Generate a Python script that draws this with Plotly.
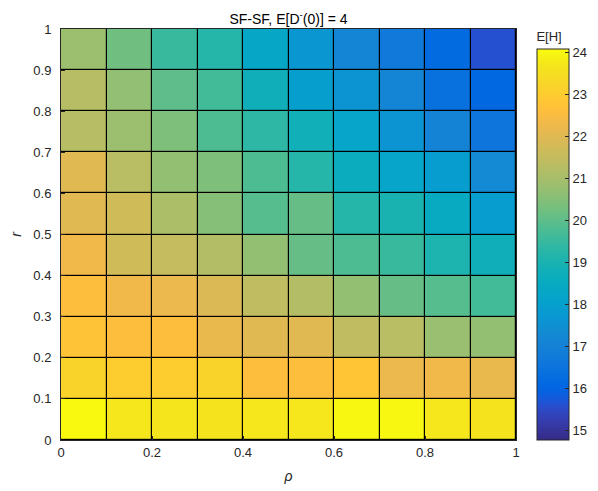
import plotly.graph_objects as go

rho = [0.05, 0.15, 0.25, 0.35, 0.45, 0.55, 0.65, 0.75, 0.85, 0.95]
r = [0.05, 0.15, 0.25, 0.35, 0.45, 0.55, 0.65, 0.75, 0.85, 0.95]

# E[H] values, rows = r (bottom to top), columns = rho (left to right)
EH = [
    [24.05, 23.70, 23.65, 23.60, 23.70, 23.70, 24.00, 24.00, 23.70, 23.60],
    [23.20, 23.00, 23.00, 23.20, 22.60, 22.60, 22.80, 22.20, 22.30, 22.15],
    [22.75, 22.60, 22.60, 22.15, 22.00, 22.00, 21.40, 21.30, 20.80, 20.70],
    [22.60, 22.30, 22.20, 21.90, 21.40, 21.20, 20.70, 20.10, 19.90, 19.65],
    [22.30, 21.70, 21.50, 21.20, 20.70, 20.10, 19.80, 19.50, 19.05, 18.75],
    [22.00, 21.70, 21.10, 20.50, 19.90, 20.10, 19.20, 19.00, 18.50, 17.90],
    [22.00, 21.30, 20.70, 20.40, 19.80, 19.20, 18.60, 18.20, 17.90, 17.30],
    [21.27, 20.83, 20.40, 19.80, 19.35, 18.80, 18.20, 17.60, 17.05, 16.55],
    [21.27, 20.68, 20.00, 19.65, 18.76, 18.00, 17.60, 17.10, 16.40, 16.10],
    [20.83, 20.24, 19.50, 19.20, 18.30, 17.70, 17.10, 16.70, 16.20, 15.60],
]

c_min = 14.77
c_max = 24.08

x_ticks = [0, 0.2, 0.4, 0.6, 0.8, 1]
x_ticklabels = ["0", "0.2", "0.4", "0.6", "0.8", "1"]
y_ticks = [0, 0.1, 0.2, 0.3, 0.4, 0.5, 0.6, 0.7, 0.8, 0.9, 1]
y_ticklabels = ["0", "0.1", "0.2", "0.3", "0.4", "0.5", "0.6", "0.7", "0.8", "0.9", "1"]
cb_ticks = [15, 16, 17, 18, 19, 20, 21, 22, 23, 24]

parula = [
    (0.2081, 0.1663, 0.5292), (0.2116, 0.1898, 0.5777), (0.2123, 0.2138, 0.6270),
    (0.2081, 0.2386, 0.6771), (0.1959, 0.2645, 0.7279), (0.1707, 0.2919, 0.7792),
    (0.1253, 0.3242, 0.8303), (0.0591, 0.3598, 0.8683), (0.0117, 0.3875, 0.8820),
    (0.0060, 0.4086, 0.8828), (0.0165, 0.4266, 0.8786), (0.0329, 0.4430, 0.8720),
    (0.0498, 0.4586, 0.8641), (0.0629, 0.4737, 0.8554), (0.0723, 0.4887, 0.8467),
    (0.0779, 0.5040, 0.8384), (0.0793, 0.5200, 0.8312), (0.0749, 0.5375, 0.8263),
    (0.0641, 0.5570, 0.8240), (0.0488, 0.5772, 0.8228), (0.0343, 0.5966, 0.8199),
    (0.0265, 0.6137, 0.8135), (0.0239, 0.6287, 0.8038), (0.0231, 0.6418, 0.7913),
    (0.0228, 0.6535, 0.7768), (0.0267, 0.6642, 0.7607), (0.0384, 0.6743, 0.7436),
    (0.0590, 0.6838, 0.7254), (0.0843, 0.6928, 0.7062), (0.1133, 0.7015, 0.6859),
    (0.1453, 0.7098, 0.6646), (0.1801, 0.7177, 0.6424), (0.2178, 0.7250, 0.6193),
    (0.2586, 0.7317, 0.5954), (0.3022, 0.7376, 0.5712), (0.3482, 0.7424, 0.5473),
    (0.3953, 0.7459, 0.5244), (0.4420, 0.7481, 0.5033), (0.4871, 0.7491, 0.4840),
    (0.5300, 0.7491, 0.4661), (0.5709, 0.7485, 0.4494), (0.6099, 0.7473, 0.4337),
    (0.6473, 0.7456, 0.4188), (0.6834, 0.7435, 0.4044), (0.7184, 0.7411, 0.3905),
    (0.7525, 0.7384, 0.3768), (0.7858, 0.7356, 0.3633), (0.8185, 0.7327, 0.3498),
    (0.8507, 0.7299, 0.3360), (0.8824, 0.7274, 0.3217), (0.9139, 0.7258, 0.3063),
    (0.9450, 0.7261, 0.2886), (0.9739, 0.7314, 0.2666), (0.9938, 0.7455, 0.2403),
    (0.9990, 0.7653, 0.2164), (0.9955, 0.7861, 0.1967), (0.9880, 0.8066, 0.1794),
    (0.9789, 0.8271, 0.1633), (0.9697, 0.8481, 0.1475), (0.9626, 0.8705, 0.1309),
    (0.9589, 0.8949, 0.1132), (0.9598, 0.9218, 0.0948), (0.9661, 0.9514, 0.0755),
    (0.9763, 0.9831, 0.0538),
]
n = len(parula)
colorscale = [
    [i / (n - 1), "rgb(%d,%d,%d)" % (round(c[0] * 255), round(c[1] * 255), round(c[2] * 255))]
    for i, c in enumerate(parula)
]

font_family = "Liberation Sans, Arial, sans-serif"

fig = go.Figure(
    go.Heatmap(
        x=rho,
        y=r,
        z=EH,
        colorscale=colorscale,
        zmin=c_min,
        zmax=c_max,
        xgap=1.2,
        ygap=1.2,
        colorbar=dict(
            thickness=32,
            len=1,
            lenmode="fraction",
            x=1.046,
            xanchor="left",
            y=0.5,
            yanchor="middle",
            xpad=0,
            ypad=0,
            outlinewidth=1,
            outlinecolor="#262626",
            tickvals=cb_ticks,
            ticktext=[str(v) for v in cb_ticks],
            ticks="inside",
            ticklen=4,
            tickcolor="#262626",
            tickfont=dict(size=13, color="#262626", family=font_family),
            title=dict(text="E[H]", side="top", font=dict(size=13, color="#262626", family=font_family)),
        ),
    )
)

fig.update_layout(
    width=590,
    height=483,
    margin=dict(l=53, r=82, t=21, b=51, autoexpand=False),
    paper_bgcolor="white",
    plot_bgcolor="black",
    font=dict(family=font_family, size=13, color="#262626"),
    title=dict(
        text="SF-SF, E[D<sup>-</sup>(0)] = 4",
        x=0.5,
        xref="paper",
        xanchor="center",
        y=1 - 11 / 483,
        yref="container",
        yanchor="middle",
        font=dict(size=14, color="black", family=font_family),
    ),
)

fig.update_xaxes(
    range=[0, 1],
    tickvals=x_ticks,
    ticktext=x_ticklabels,
    ticks="inside",
    ticklen=4,
    tickcolor="#262626",
    showgrid=False,
    zeroline=False,
    showline=True,
    linecolor="#262626",
    linewidth=1,
    mirror=True,
    automargin=False,
    tickfont=dict(size=13, color="#262626"),
    title=dict(text="<i>ρ</i>", font=dict(size=14, color="#262626"), standoff=12),
)
fig.update_yaxes(
    range=[0, 1],
    tickvals=y_ticks,
    ticktext=y_ticklabels,
    ticks="inside",
    ticklen=4,
    ticklabelstandoff=6,
    tickcolor="#262626",
    showgrid=False,
    zeroline=False,
    showline=True,
    linecolor="#262626",
    linewidth=1,
    mirror=True,
    automargin=False,
    tickfont=dict(size=13, color="#262626"),
    title=dict(text="<i>r</i>", font=dict(size=14, color="#262626"), standoff=8),
)

fig.write_html("out.html")
